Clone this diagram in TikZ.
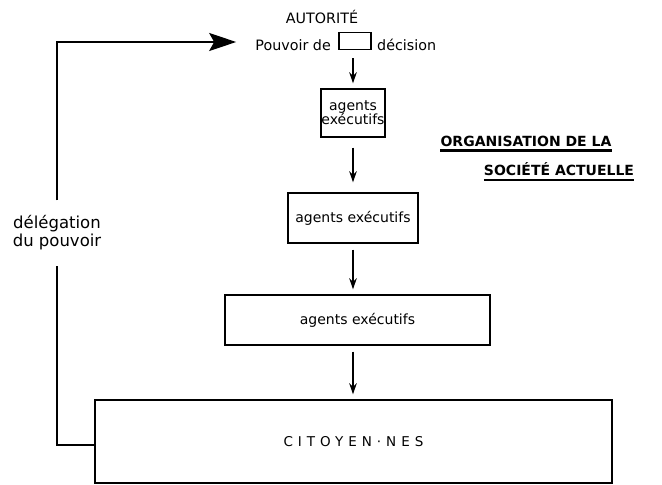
\documentclass[tikz,border=0pt]{standalone}
\usepackage{fontspec}
\setmainfont{DejaVu Sans}
\usepackage{tikz}
\usetikzlibrary{arrows.meta,positioning,calc}
\tikzset{
  boite/.style={draw,line width=1.4pt,inner sep=0pt,font=\fontsize{14}{16}\selectfont},
  fleche/.style={line width=1.5pt,-{Stealth[length=11pt,width=7.5pt]},shorten <=6pt,shorten >=5pt},
  texte/.style={inner sep=0pt,font=\fontsize{14.3}{16}\selectfont},
  titre/.style={inner sep=0pt,font=\fontsize{14}{16}\selectfont\bfseries},
  souligne/.style={line width=2.4pt}
}
\begin{document}
\begin{tikzpicture}[x=1pt,y=-1pt]
    \useasboundingbox (0,0) rectangle (662,485);
    % autorite et pouvoir de decision
    \node[texte] (autorite) at (322,17) {AUTORITÉ};
    \node[boite,minimum width=32pt,minimum height=17pt] (decbox) at (355,41) {};
    \node[texte,anchor=east] (pouvoir) at (331,45) {Pouvoir de};
    \node[texte,anchor=west] (decision) at (377,45) {décision};
    % agents executifs
    \node[boite,minimum width=64pt,minimum height=48pt,align=center,
          font=\fontsize{14}{10.5}\selectfont] (agentsA) at (353,113) {agents\\[-1pt]exécutifs};
    \node[boite,minimum width=130pt,minimum height=50pt] (agentsB) at (353,218) {agents exécutifs};
    \node[boite,minimum width=265pt,minimum height=50pt] (agentsC) at (357.5,320) {agents exécutifs};
    \node[boite,minimum width=517pt,minimum height=83pt,font=\fontsize{13.5}{14}\selectfont\addfontfeature{LetterSpace=37}] (citoyens) at (353.5,441.5) {CITOYEN·NES};
    \draw[fleche,shorten <=8pt] (decbox.south -| agentsA.north) -- (agentsA.north);
    \draw[fleche,shorten <=10pt,shorten >=10pt] (agentsA.south) -- (agentsA.south |- agentsB.north);
    \draw[fleche] (agentsB.south) -- (agentsB.south |- agentsC.north);
    \draw[fleche] (agentsB.south |- agentsC.south) -- (agentsB.south |- citoyens.north);
    % delegation
    \node[texte,font=\fontsize{16.5}{18}\selectfont,align=center,inner ysep=15pt] (delegation) at (57,233) {délégation\\du pouvoir};
    \draw[line width=1.6pt] ([yshift=-3.5pt]citoyens.west) -| (delegation.south);
    \draw[line width=2.2pt,-{Stealth[length=27pt,width=18pt,inset=5pt]},shorten >=19pt] (delegation.north) |- ([yshift=3pt]pouvoir.west);
    % titre
    \node[titre] (orga) at (526,141) {ORGANISATION DE LA};
    \node[titre] (societe) at (559,169) {SOCIÉTÉ ACTUELLE};
    \draw[souligne] ([yshift=-4pt]orga.south west) -- ([yshift=-4pt]orga.south east);
    \draw[souligne] ([yshift=-4pt]societe.south west) -- ([yshift=-4pt]societe.south east);
\end{tikzpicture}
\end{document}
